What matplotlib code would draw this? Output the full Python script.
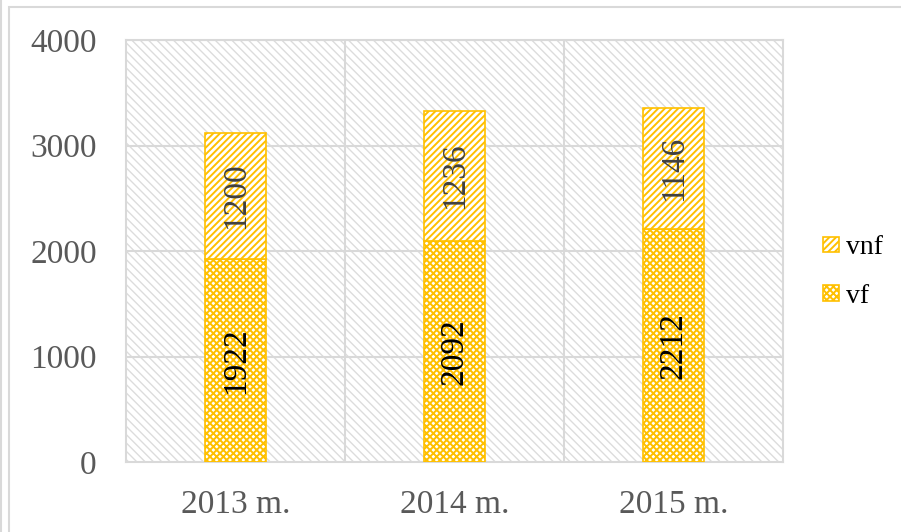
import matplotlib
matplotlib.use('Agg')
import matplotlib.pyplot as plt
from matplotlib.patches import Rectangle
from matplotlib.lines import Line2D

# chart data
years = ['2013 m.', '2014 m.', '2015 m.']
vf = [1922, 2092, 2212]
vnf = [1200, 1236, 1146]
y_ticks = [0, 1000, 2000, 3000, 4000]

YELLOW = '#FFC000'
GRID = '#D9D9D9'

plt.rcParams['font.family'] = ['Liberation Serif', 'DejaVu Serif']

fig = plt.figure(figsize=(9.01, 5.32), dpi=100)
ax = fig.add_axes([126 / 901, 1 - 462 / 532, 657 / 901, 422 / 532])

# hatched plot area
plt.rcParams['hatch.linewidth'] = 1.0
ax.add_patch(Rectangle((0, 0), 1, 1, transform=ax.transAxes, facecolor='white',
                       edgecolor='#DCDCDC', hatch='\\\\\\\\', linewidth=0, zorder=0))

x = list(range(len(years)))
width = 0.274

plt.rcParams['hatch.linewidth'] = 1.4
bars_vf = ax.bar(x, vf, width, facecolor='white', edgecolor=YELLOW,
                 hatch='xxxxx', linewidth=1.2, zorder=3, label='vf')
plt.rcParams['hatch.linewidth'] = 1.4
bars_vnf = ax.bar(x, vnf, width, bottom=vf, facecolor='white', edgecolor=YELLOW,
                  hatch='/////', linewidth=1.2, zorder=3, label='vnf')

for i in x:
    ax.text(i, vf[i] / 2, str(vf[i]), rotation=90, ha='center', va='center',
            fontsize=24, color='black', zorder=5)
    ax.text(i, vf[i] + vnf[i] / 2, str(vnf[i]), rotation=90, ha='center',
            va='center', fontsize=24, color='#404040', zorder=5)

ax.set_xlim(-0.5, 2.5)
ax.set_ylim(0, 4000)
ax.set_yticks(y_ticks)
ax.set_yticklabels([str(v) for v in y_ticks])
ax.set_xticks(x)
ax.set_xticklabels(years)
ax.tick_params(axis='y', length=0, pad=21, labelsize=24, labelcolor='#595959')
ax.tick_params(axis='x', length=0, pad=20, labelsize=24, labelcolor='#595959')

for v in y_ticks[1:]:
    ax.axhline(v, color=GRID, linewidth=1.5, zorder=1)
for v in [0.5, 1.5]:
    ax.axvline(v, color=GRID, linewidth=1.5, zorder=1)
for s in ax.spines.values():
    s.set_color(GRID)
    s.set_linewidth(1.5)
ax.set_facecolor('none')

leg = ax.legend(handles=[bars_vnf, bars_vf], labels=['vnf', 'vf'],
                loc='center left', bbox_to_anchor=(1.04, 0.45), frameon=False,
                fontsize=20, handlelength=0.58, handleheight=0.5,
                handletextpad=0.25, labelspacing=0.85, borderpad=0)

# chart border
fig.add_artist(Rectangle((9 / 901, -0.1), 1.0, 1 - 7 / 532 + 0.1,
                         transform=fig.transFigure, facecolor='none',
                         edgecolor=GRID, linewidth=1.5))
fig.add_artist(Line2D([0.5 / 901, 0.5 / 901], [0, 1], transform=fig.transFigure,
                      color=GRID, linewidth=1.5))

fig.savefig('out.png', dpi=100)
